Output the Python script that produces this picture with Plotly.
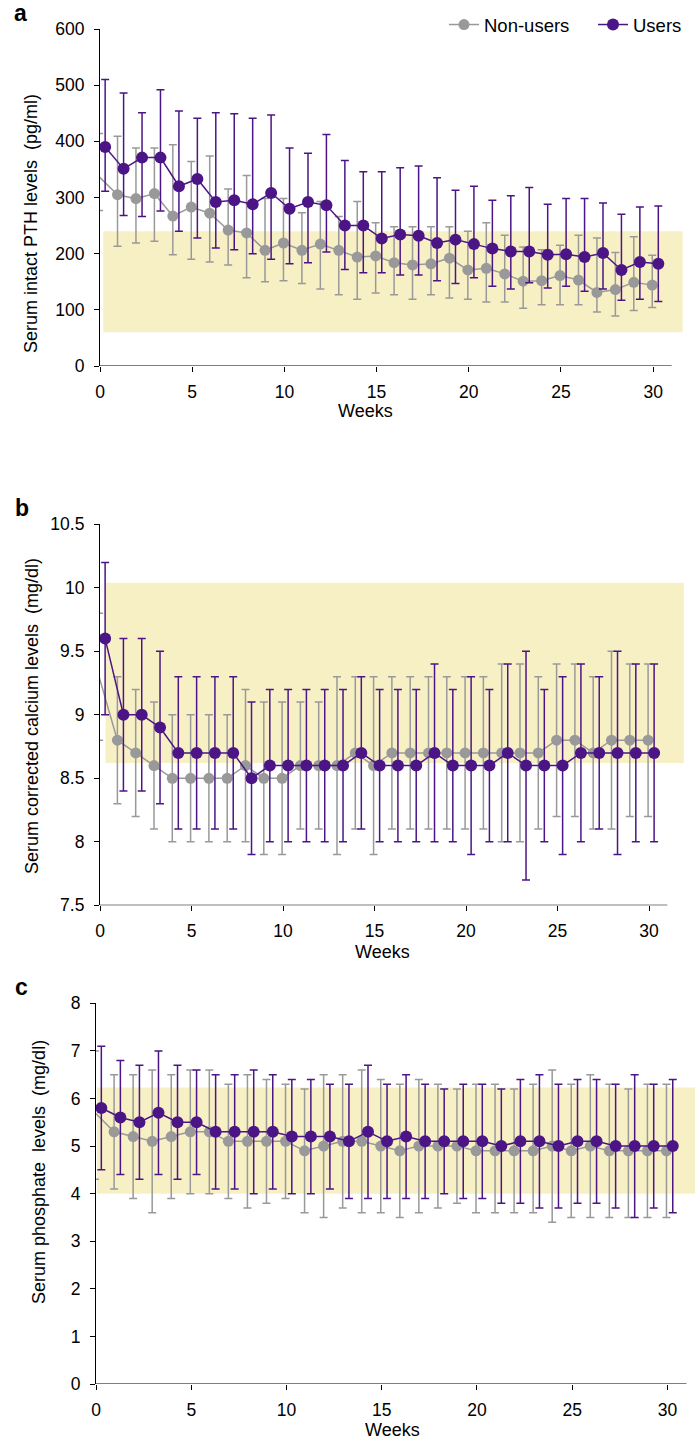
import plotly.graph_objects as go

W, H = 697, 1439

weeks = list(range(31))
week_ticks = [0, 5, 10, 15, 20, 25, 30]

# panel a: serum intact PTH (pg/ml)
pth_non_mean = [337, 305, 298, 307, 267, 283, 272, 242, 237, 206, 219, 206, 217, 206, 194, 196,
                184, 180, 182, 192, 171, 174, 164, 151, 152, 161, 153, 131, 136, 149, 144]
pth_non_hi = [414, 409, 388, 388, 394, 364, 374, 315, 339, 298, 298, 273, 293, 266, 293, 255,
              248, 248, 248, 248, 240, 255, 233, 212, 207, 215, 233, 228, 202, 230, 197]
pth_non_lo = [277, 213, 219, 222, 198, 190, 185, 180, 157, 150, 152, 147, 137, 127, 119, 130,
              127, 119, 127, 121, 119, 114, 114, 103, 109, 109, 109, 96, 89, 99, 104]
pth_usr_mean = [390, 351, 371, 371, 320, 333, 292, 295, 288, 308, 280, 292, 286, 250, 250, 227,
                234, 232, 219, 225, 217, 209, 204, 204, 198, 199, 194, 201, 171, 185, 182]
pth_usr_hi = [510, 486, 451, 492, 454, 441, 451, 449, 441, 447, 388, 379, 412, 366, 346, 346,
              353, 356, 335, 313, 320, 295, 303, 318, 288, 298, 298, 290, 270, 283, 285]
pth_usr_lo = [311, 268, 266, 276, 240, 228, 210, 207, 200, 190, 182, 184, 203, 172, 166, 166,
              162, 162, 152, 147, 157, 142, 137, 148, 139, 142, 133, 137, 117, 119, 115]
pth_ticks = [0, 100, 200, 300, 400, 500, 600]
pth_band = [60, 240]

# panel b: serum corrected calcium (mg/dl)
ca_non_mean = [9.3, 8.8, 8.7, 8.6, 8.5, 8.5, 8.5, 8.5, 8.6, 8.5, 8.5, 8.6, 8.6, 8.6, 8.7, 8.6,
               8.7, 8.7, 8.7, 8.7, 8.7, 8.7, 8.7, 8.7, 8.7, 8.8, 8.8, 8.7, 8.8, 8.8, 8.8]
ca_non_hi = [9.8, 9.3, 9.2, 9.1, 9.0, 9.0, 9.0, 9.0, 9.2, 9.1, 9.1, 9.1, 9.1, 9.3, 9.3, 9.3,
             9.3, 9.3, 9.3, 9.3, 9.3, 9.3, 9.4, 9.4, 9.3, 9.4, 9.4, 9.3, 9.5, 9.4, 9.4]
ca_non_lo = [8.8, 8.3, 8.2, 8.1, 8.0, 8.0, 8.0, 8.0, 8.0, 7.9, 7.9, 8.1, 8.1, 7.9, 8.1, 7.9,
             8.1, 8.1, 8.1, 8.1, 8.1, 8.1, 8.0, 8.0, 8.1, 8.2, 8.2, 8.1, 8.1, 8.2, 8.2]
ca_usr_mean = [9.6, 9.0, 9.0, 8.9, 8.7, 8.7, 8.7, 8.7, 8.5, 8.6, 8.6, 8.6, 8.6, 8.6, 8.7, 8.6,
               8.6, 8.6, 8.7, 8.6, 8.6, 8.6, 8.7, 8.6, 8.6, 8.6, 8.7, 8.7, 8.7, 8.7, 8.7]
ca_usr_hi = [10.2, 9.6, 9.6, 9.5, 9.3, 9.3, 9.3, 9.3, 9.1, 9.2, 9.2, 9.2, 9.2, 9.2, 9.3, 9.2,
             9.2, 9.2, 9.4, 9.2, 9.3, 9.2, 9.4, 9.5, 9.2, 9.3, 9.4, 9.3, 9.5, 9.4, 9.4]
ca_usr_lo = [9.0, 8.4, 8.4, 8.3, 8.1, 8.1, 8.1, 8.1, 7.9, 8.0, 8.0, 8.0, 8.0, 8.0, 8.1, 8.0,
             8.0, 8.0, 8.0, 8.0, 7.9, 8.0, 8.0, 7.7, 8.0, 7.9, 8.0, 8.1, 7.9, 8.0, 8.0]
ca_ticks = [7.5, 8, 8.5, 9, 9.5, 10, 10.5]
ca_band = [8.62, 10.04]

# panel c: serum phosphate (mg/dl)
p_non_mean = [5.7, 5.3, 5.2, 5.1, 5.2, 5.3, 5.3, 5.1, 5.1, 5.1, 5.1, 4.9, 5.0, 5.1, 5.1, 5.0,
              4.9, 5.0, 5.0, 5.0, 4.9, 4.9, 4.9, 4.9, 5.0, 4.9, 5.0, 4.9, 4.9, 4.9, 4.9]
p_non_hi = [7.0, 6.5, 6.5, 6.6, 6.5, 6.6, 6.6, 6.3, 6.5, 6.4, 6.3, 6.2, 6.5, 6.5, 6.6, 6.4,
            6.3, 6.4, 6.3, 6.2, 6.3, 6.3, 6.2, 6.3, 6.6, 6.3, 6.5, 6.3, 6.2, 6.3, 6.3]
p_non_lo = [4.3, 4.1, 3.9, 3.6, 3.9, 4.0, 4.0, 3.9, 3.7, 3.8, 3.9, 3.6, 3.5, 3.7, 3.6, 3.6,
            3.5, 3.6, 3.7, 3.8, 3.6, 3.6, 3.6, 3.6, 3.4, 3.5, 3.5, 3.5, 3.5, 3.5, 3.5]
p_usr_mean = [5.8, 5.6, 5.5, 5.7, 5.5, 5.5, 5.3, 5.3, 5.3, 5.3, 5.2, 5.2, 5.2, 5.1, 5.3, 5.1,
              5.2, 5.1, 5.1, 5.1, 5.1, 5.0, 5.1, 5.1, 5.0, 5.1, 5.1, 5.0, 5.0, 5.0, 5.0]
p_usr_hi = [7.1, 6.8, 6.7, 7.0, 6.7, 6.6, 6.5, 6.5, 6.6, 6.5, 6.4, 6.4, 6.3, 6.3, 6.7, 6.3,
            6.5, 6.3, 6.2, 6.3, 6.3, 6.2, 6.4, 6.5, 6.3, 6.4, 6.4, 6.3, 6.5, 6.3, 6.4]
p_usr_lo = [4.5, 4.4, 4.3, 4.4, 4.3, 4.4, 4.1, 4.1, 4.0, 4.1, 4.0, 4.0, 4.1, 3.9, 3.9, 3.9,
            3.9, 3.9, 4.0, 3.9, 3.9, 3.8, 3.8, 3.7, 3.7, 3.8, 3.8, 3.7, 3.5, 3.7, 3.6]
p_ticks = [0, 1, 2, 3, 4, 5, 6, 7, 8]
p_band = [4.0, 6.23]

PURPLE = "#4b1586"
GREY = "#999999"
BAND = "#f8f0c5"
FONT = "Arial, 'Liberation Sans', sans-serif"
FS = 17.5


def fx(px):
    return px / W


def fy(py):
    return 1 - py / H


panels = [
    dict(letter="a", title="Serum intact PTH levels  (pg/ml)",
         non=(pth_non_mean, pth_non_hi, pth_non_lo), usr=(pth_usr_mean, pth_usr_hi, pth_usr_lo),
         ticks=pth_ticks, band=pth_band, yr=[0, 600], xr=[0, 31.7],
         xpx=(100, 684.5), ypx=(366, 29), band_x=(0.18, 31.6),
         letter_pos=(20, 13), title_pos=(31, 224), weeks_pos=(365, 411)),
    dict(letter="b", title="Serum corrected calcium levels  (mg/dl)",
         non=(ca_non_mean, ca_non_hi, ca_non_lo), usr=(ca_usr_mean, ca_usr_hi, ca_usr_lo),
         ticks=ca_ticks, band=ca_band, yr=[7.5, 10.5], xr=[0, 32],
         xpx=(100, 685.6), ypx=(905.3, 524.3), band_x=(0.3, 31.9),
         letter_pos=(22, 508), title_pos=(32, 716), weeks_pos=(383, 952)),
    dict(letter="c", title="Serum phosphate  levels  (mg/dl)",
         non=(p_non_mean, p_non_hi, p_non_lo), usr=(p_usr_mean, p_usr_hi, p_usr_lo),
         ticks=p_ticks, band=p_band, yr=[0, 8], xr=[0, 31.5],
         xpx=(96, 696), ypx=(1384, 1003.3), band_x=(0.05, 31.45),
         letter_pos=(21, 987), title_pos=(39, 1172), weeks_pos=(392, 1430)),
]

fig = go.Figure()
shapes, annotations = [], []
layout_axes = {}

for i, p in enumerate(panels):
    n = "" if i == 0 else str(i + 1)
    xa, ya = "x" + n, "y" + n

    for name, (mean, hi, lo), col, size, shift in [
        ("Non-users", p["non"], GREY, 11, -0.05),
        ("Users", p["usr"], PURPLE, 12, 0.28),
    ]:
        fig.add_trace(go.Scatter(
            x=[w + shift for w in weeks], y=mean,
            mode="lines+markers", name=name,
            line=dict(color=col, width=1.5),
            marker=dict(color=col, size=size),
            error_y=dict(type="data", symmetric=False,
                         array=[h - m for h, m in zip(hi, mean)],
                         arrayminus=[m - l for m, l in zip(mean, lo)],
                         color=col, thickness=1.5, width=4),
            cliponaxis=False, showlegend=(i == 0),
            xaxis=xa, yaxis=ya,
        ))

    layout_axes["xaxis" + n] = dict(
        domain=[fx(p["xpx"][0]), fx(p["xpx"][1])], range=p["xr"], anchor=ya,
        showgrid=False, zeroline=False, showline=False, automargin=False,
        tickmode="array", tickvals=week_ticks, ticks="outside", ticklen=5,
        tickcolor="black", tickwidth=1.2, ticklabelstandoff=5,
        tickfont=dict(size=FS, color="black", family=FONT),
    )
    layout_axes["yaxis" + n] = dict(
        domain=[fy(p["ypx"][0]), fy(p["ypx"][1])], range=p["yr"], anchor=xa,
        showgrid=False, zeroline=False, showline=True, linecolor="black", linewidth=1.2,
        automargin=False,
        tickmode="array", tickvals=p["ticks"], ticktext=[f"{t:g}" for t in p["ticks"]],
        ticks="outside", ticklen=5, tickcolor="black", tickwidth=1.2, ticklabelstandoff=6,
        tickfont=dict(size=FS, color="black", family=FONT),
    )

    # reference range band
    shapes.append(dict(type="rect", xref=xa, yref=ya, layer="below",
                       x0=p["band_x"][0], x1=p["band_x"][1], y0=p["band"][0], y1=p["band"][1],
                       fillcolor=BAND, line=dict(width=0)))
    # x axis line stops at week 31
    shapes.append(dict(type="line", xref=xa, yref=ya, x0=0, x1=31,
                       y0=p["yr"][0], y1=p["yr"][0], line=dict(color="black", width=1.2)))

    annotations.append(dict(text=f"<b>{p['letter']}</b>", xref="paper", yref="paper",
                            x=fx(p["letter_pos"][0]), y=fy(p["letter_pos"][1]),
                            xanchor="center", yanchor="middle",
                            showarrow=False, font=dict(size=23, color="black", family=FONT)))
    annotations.append(dict(text=p["title"], xref="paper", yref="paper", textangle=-90,
                            x=fx(p["title_pos"][0]), y=fy(p["title_pos"][1]),
                            xanchor="center", yanchor="middle",
                            showarrow=False, font=dict(size=18, color="black", family=FONT)))
    annotations.append(dict(text="Weeks", xref="paper", yref="paper",
                            x=fx(p["weeks_pos"][0]), y=fy(p["weeks_pos"][1]),
                            xanchor="center", yanchor="middle",
                            showarrow=False, font=dict(size=18, color="black", family=FONT)))

fig.update_layout(
    width=W, height=H, autosize=False,
    margin=dict(l=0, r=0, t=0, b=0, pad=0, autoexpand=False),
    paper_bgcolor="white", plot_bgcolor="white",
    font=dict(family=FONT, size=FS, color="black"),
    shapes=shapes, annotations=annotations,
    legend=dict(orientation="h", x=fx(444), xanchor="left", y=fy(6), yanchor="top",
                entrywidth=104, entrywidthmode="pixels",
                font=dict(size=18.5, color="black", family=FONT), bgcolor="rgba(0,0,0,0)"),
    **layout_axes,
)

fig.write_html("out.html", config={"displayModeBar": False},
               post_script="document.body.style.margin='0';")
